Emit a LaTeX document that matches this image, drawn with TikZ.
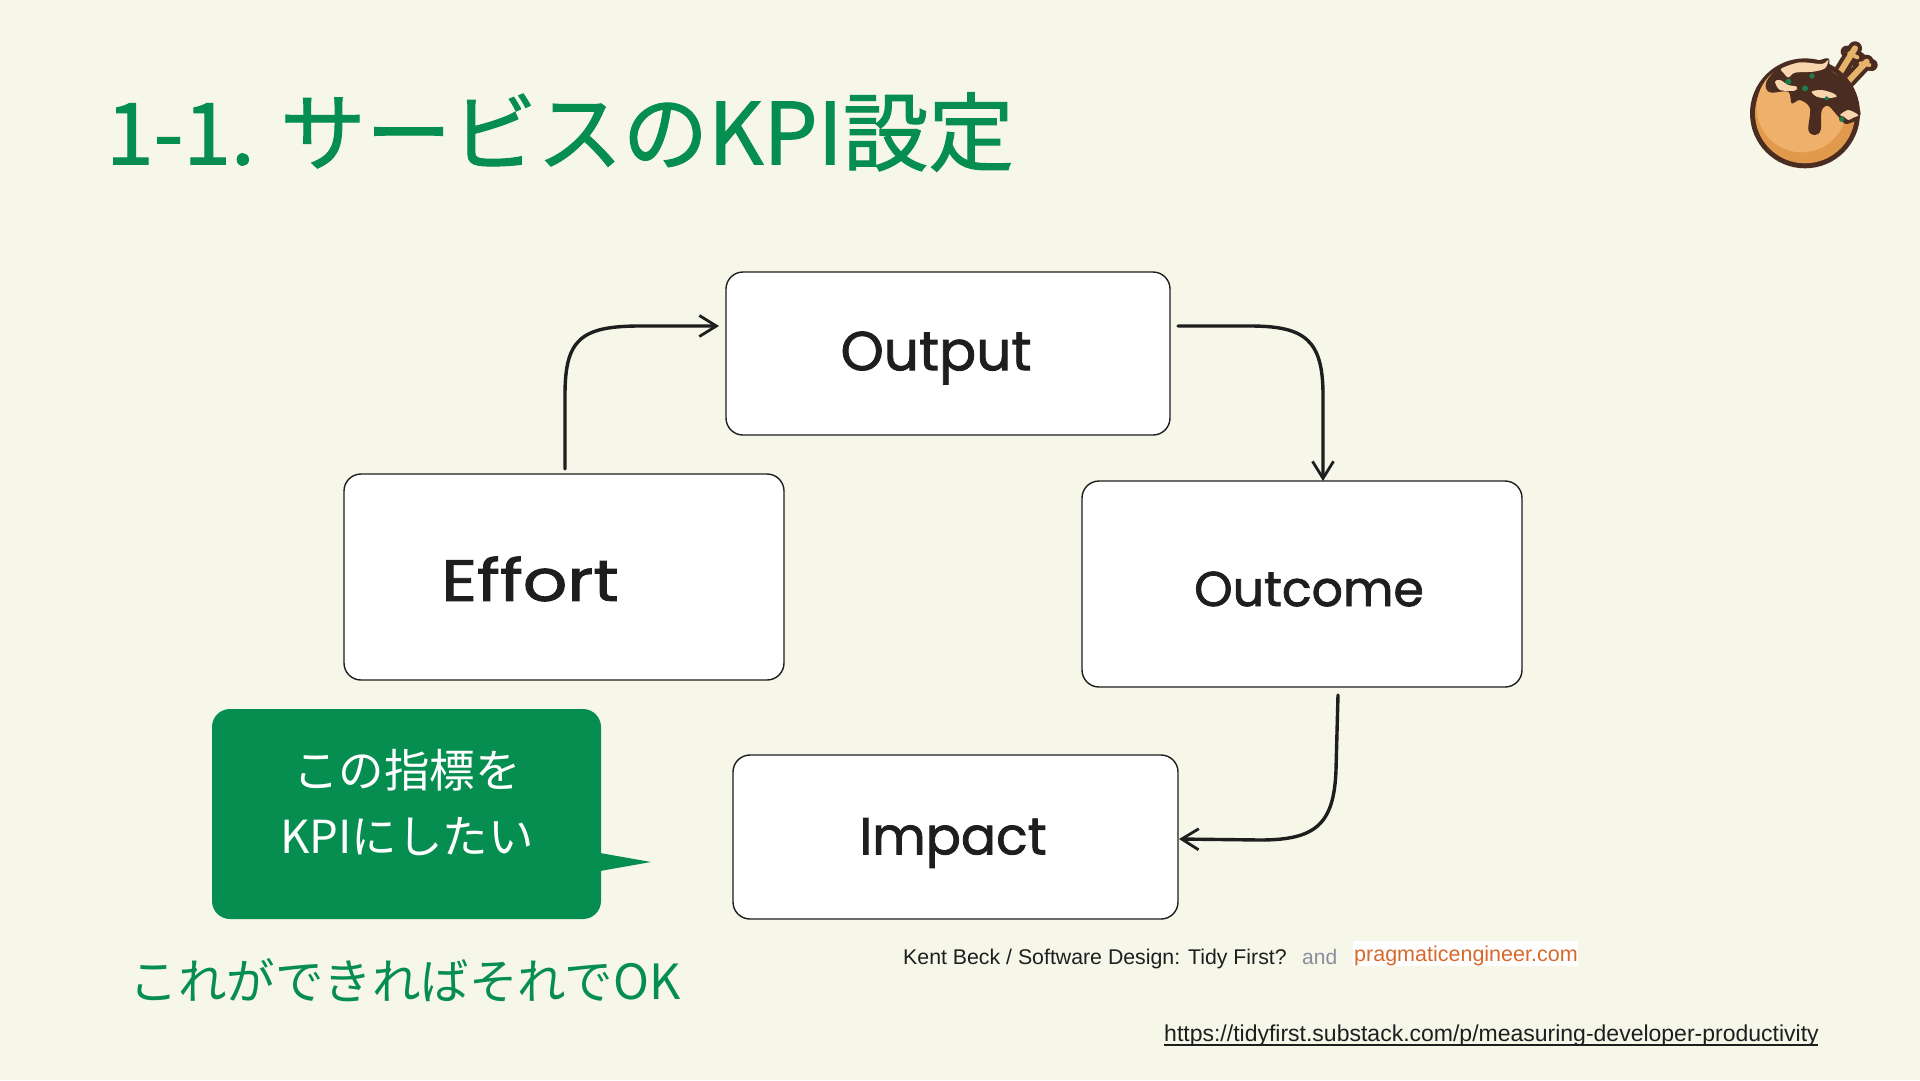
\documentclass[tikz,border=0pt]{standalone}
\usepackage{fontspec}
\setmainfont{Noto Sans CJK JP}
\newfontfamily\jpfont{Noto Sans CJK JP}
\newfontfamily\titlefont[FakeBold=1.2]{Noto Sans CJK JP}
\newfontfamily\handfont[FakeBold=1.5]{Poppins}
\newfontfamily\latinfont{Liberation Sans}
\usetikzlibrary{arrows.meta,shapes.geometric}
\definecolor{bgc}{HTML}{F6F7E9}
\definecolor{greenc}{HTML}{068E50}
\definecolor{inkc}{HTML}{1E1E1E}
\definecolor{orangec}{HTML}{D9692A}
\definecolor{greyc}{HTML}{8A8D9C}
\definecolor{ballc}{HTML}{EFB06C}
\definecolor{ballshade}{HTML}{E19A4C}
\definecolor{brownc}{HTML}{4A2C20}
\definecolor{creamc}{HTML}{F8D5AC}
\definecolor{stickc}{HTML}{E5B36A}
\definecolor{leafc}{HTML}{1F7A4D}
\tikzset{
  x=1pt,y=-1pt,
  sketchbox/.style={draw=inkc,fill=white,line width=1.4pt,rounded corners=17pt},
  handlabel/.style={text=inkc,inner sep=0pt,anchor=center},
  flowarrow/.style={draw=inkc,line width=3.4pt,line cap=round,-{Straight Barb[length=17pt,width=21pt,line width=2.8pt]}},
  greentext/.style={text=greenc,inner sep=0pt},
}
\begin{document}
\begin{tikzpicture}
\useasboundingbox (0,0) rectangle (1920,1080);
\fill[bgc] (0,0) rectangle (1920,1080);
% title
\node[greentext,anchor=west,font=\titlefont\fontsize{85.6}{90}\selectfont] (title) at (106,132) {1-1. サービスのKPI設定};
% boxes
\draw[sketchbox] (726,272) rectangle (1170,435);
\draw[sketchbox] (344,474) rectangle (784,680);
\draw[sketchbox] (1082,481) rectangle (1522,687);
\draw[sketchbox] (733,755) rectangle (1178,919);
\node[handlabel,font=\handfont\fontsize{55}{60}\selectfont] (output) at (936,358) {Output};
\node[handlabel,font=\handfont\fontsize{58}{60}\selectfont,xscale=1.2] (effort) at (530,579) {Effort};
\node[handlabel,font=\handfont\fontsize{49}{60}\selectfont] (outcome) at (1309,589) {Outcome};
\node[handlabel,font=\handfont\fontsize{52}{60}\selectfont] (impact) at (953,843) {Impact};
% connectors
\coordinate (e1) at (565,469);
\coordinate (o1) at (719,326);
\coordinate (o2) at (1178,326);
\coordinate (oc1) at (1323,481);
\coordinate (oc2) at (1338,695);
\coordinate (i1) at (1179,839);
\draw[flowarrow] (e1) -- (565,395) .. controls (565,340) and (580,326) .. (640,326) -- (o1);
\draw[flowarrow] (o2) -- (1250,326) .. controls (1305,326) and (1323,340) .. (1323,395) -- (oc1);
\draw[flowarrow] (oc2) -- (1336,770) .. controls (1334,825) and (1315,840) .. (1260,840) -- (i1);
% callout
\fill[greenc,rounded corners=18pt] (212,709) rectangle (601,919);
\fill[greenc] (600,853) -- (651,862) -- (600,871) -- cycle;
\node[text=white,inner sep=0pt,font=\jpfont\fontsize{45.5}{50}\selectfont] (c1) at (407,770) {この指標を};
\node[text=white,inner sep=0pt,font=\jpfont\fontsize{45.5}{50}\selectfont] (c2) at (407,837) {KPIにしたい};
\node[greentext,font=\jpfont\fontsize{48.5}{54}\selectfont] (okline) at (405,980) {これができればそれでOK};
% credits
\fill[white] (1353,941) rectangle (1578,966);
\node[inner sep=0pt,anchor=base west,text=inkc,font=\latinfont\fontsize{21.3}{24}\selectfont] (kb) at (903,964) {Kent Beck / Software Design: Tidy First?};
\node[inner sep=0pt,anchor=base west,text=greyc,font=\latinfont\fontsize{21}{24}\selectfont] (andw) at (1302,964) {and};
\node[inner sep=0pt,anchor=base west,text=orangec,font=\latinfont\fontsize{21.5}{24}\selectfont] (pe) at (1354,961) {pragmaticengineer.com};
\node[inner sep=0pt,anchor=base west,text=inkc,font=\latinfont\fontsize{23}{24}\selectfont] (url) at (1164,1041) {https://tidyfirst.substack.com/p/measuring-developer-productivity};
\draw[inkc,line width=1.2pt] (1164,1045) -- (1818,1045);
% logo, in the coordinates of a 3x crop of the corner
\begin{scope}[shift={(1700,20)},x=0.3333pt,y=-0.3333pt,line join=round]
 \draw[brownc,line width=14pt,line cap=round] (400,190) -- (465,85);
 \draw[brownc,line width=14pt,line cap=round] (425,205) -- (500,125);
 \draw[brownc,line width=12pt,line cap=round] (440,95) -- (480,115);
 \draw[brownc,line width=12pt,line cap=round] (475,130) -- (515,135);
 \draw[stickc,line width=6pt,line cap=round] (400,190) -- (465,85);
 \draw[stickc,line width=6pt,line cap=round] (425,205) -- (500,125);
 \draw[stickc,line width=4pt,line cap=round] (448,100) -- (472,112);
 \draw[stickc,line width=4pt,line cap=round] (482,130) -- (508,135);
 \fill[brownc] (315,280) circle[radius=165];
 \fill[ballshade] (315,280) circle[radius=150];
 \fill[ballc] (305,262) circle[radius=135];
 \fill[brownc] plot[smooth cycle,tension=0.55] coordinates {(205,175) (260,125) (340,125) (385,115) (392,150) (440,190) (482,282) (440,312) (415,290) (385,258) (365,272) (362,330) (345,345) (325,330) (330,265) (300,240) (275,250) (265,215) (215,218) (198,205)};
 \fill[creamc] plot[smooth cycle,tension=0.5] coordinates {(245,145) (300,127) (365,132) (385,120) (375,145) (340,155) (285,158) (265,172) (250,158)};
 \fill[creamc] plot[smooth cycle,tension=0.5] coordinates {(225,185) (240,180) (265,195) (290,200) (285,212) (240,210)};
 \fill[creamc] plot[smooth cycle,tension=0.5] coordinates {(335,215) (365,210) (400,220) (410,230) (380,235) (350,230)};
 \fill[creamc] plot[smooth cycle,tension=0.5] coordinates {(420,285) (445,270) (475,285) (460,293) (445,300) (432,290)};
 \fill[leafc] (265,185) circle[radius=9];
 \fill[leafc] (336,168) circle[radius=8];
 \fill[leafc] (315,205) circle[radius=9];
 \fill[leafc] (380,235) circle[radius=6];
 \fill[leafc] (425,298) circle[radius=8];
\end{scope}
\end{tikzpicture}
\end{document}
